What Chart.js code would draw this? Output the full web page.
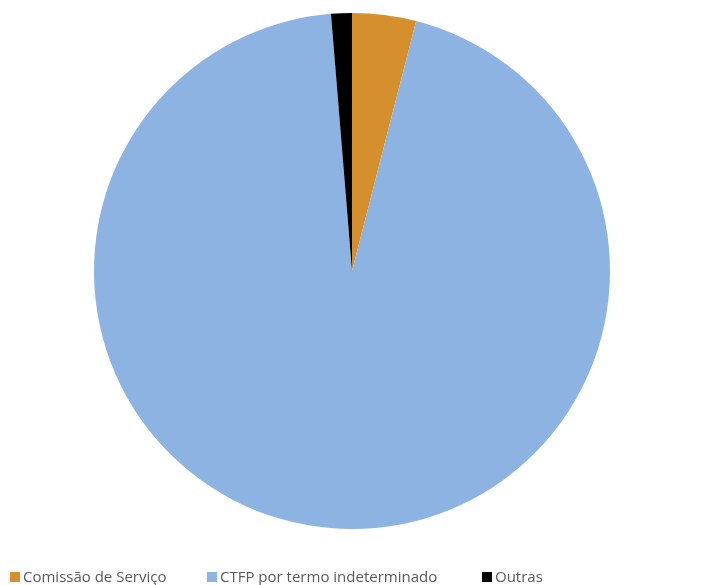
<!DOCTYPE html>
<html>
<head>
<meta charset="utf-8">
<script src="https://cdn.jsdelivr.net/npm/chart.js@4.4.1/dist/chart.umd.min.js"></script>
<style>
  html, body { margin: 0; padding: 0; background: #ffffff; }
  #wrap { width: 704px; height: 585px; position: relative; }
</style>
</head>
<body>
<div id="wrap"><canvas id="vinculoChart"></canvas></div>
<script>
// Distribuição por tipo de vínculo (%)
const categorias = ['Comissão de Serviço', 'CTFP por termo indeterminado', 'Outras'];
const percentagens = [4.0, 94.7, 1.3];
const cores = ['#D58F2C', '#8DB3E2', '#000000'];

// Legend drawn by hand so the item spacing follows the original layout
const legendaManual = {
    id: 'legendaManual',
    afterDraw(chart) {
        const ctx = chart.ctx;
        const startX = [10, 207, 482];
        const baseY = 582;
        const box = 10;
        ctx.save();
        ctx.font = '15px "Open Sans", sans-serif';
        ctx.textBaseline = 'alphabetic';
        chart.data.labels.forEach(function(label, i) {
            const x = startX[i];
            ctx.fillStyle = chart.data.datasets[0].backgroundColor[i];
            ctx.fillRect(x, baseY - box, box, box);
            ctx.fillStyle = '#595959';
            ctx.fillText(label, x + box + 3, baseY);
        });
        ctx.restore();
    }
};

const ctx = document.getElementById('vinculoChart').getContext('2d');
window.vinculoChart = new Chart(ctx, {
    type: 'pie',
    data: {
        labels: categorias,
        datasets: [{
            data: percentagens,
            backgroundColor: cores,
            borderWidth: 0
        }]
    },
    options: {
        responsive: true,
        maintainAspectRatio: false,
        animation: false,
        layout: {
            padding: { top: 13, bottom: 56, left: 0, right: 0 }
        },
        plugins: {
            legend: { display: false },
            tooltip: { enabled: false }
        }
    },
    plugins: [legendaManual]
});
</script>
</body>
</html>
